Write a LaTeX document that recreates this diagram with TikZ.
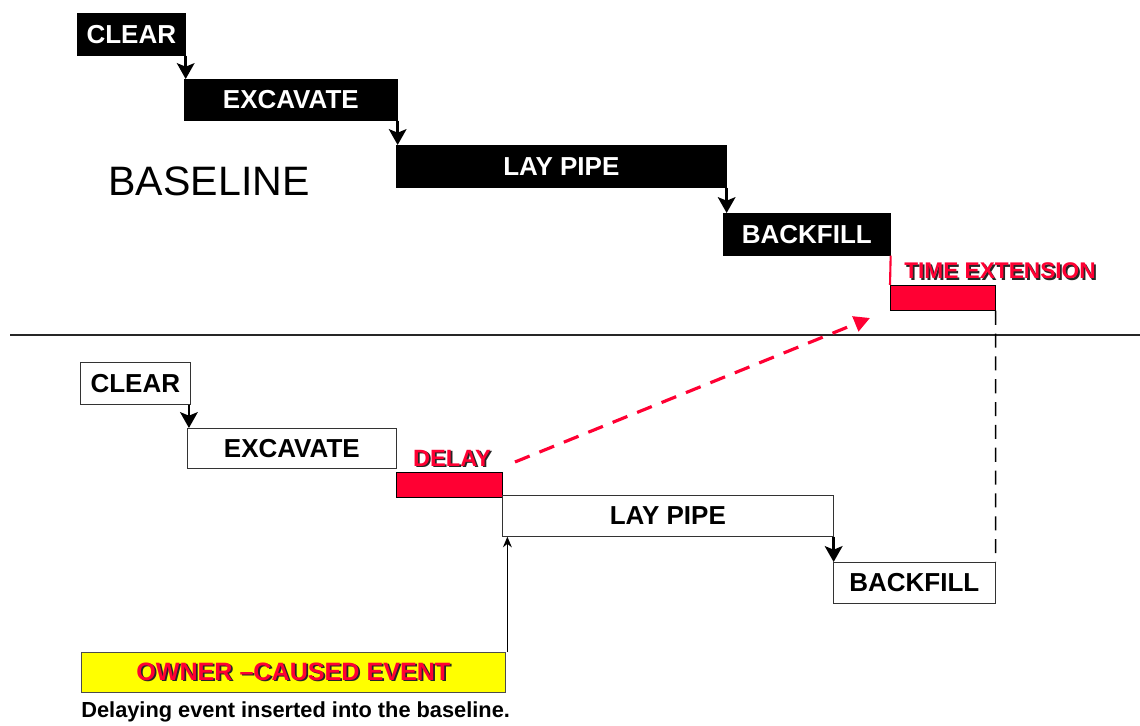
\documentclass[tikz,border=0pt]{standalone}
\usepackage{fontspec}
\setmainfont{Liberation Sans}
\usetikzlibrary{arrows.meta}

\definecolor{delayred}{HTML}{FF0033}
\definecolor{ownyellow}{HTML}{FFFF00}

%% red text with a dark drop shadow
\newcommand{\shadowed}[1]{\rlap{\hspace{1pt}\raisebox{-1pt}{\textcolor{black!85}{#1}}}#1}

\tikzset{
  barfont/.style={font=\fontsize{14.8}{16}\selectfont\bfseries},
  topbar/.style={barfont, draw=black, fill=black, text=white, inner sep=0pt, anchor=north west},
  planbar/.style={barfont, draw=black!80, fill=white, text=black, inner sep=0pt, anchor=north west},
  delaybar/.style={draw=black, fill=delayred, inner sep=0pt, anchor=north west, minimum height=0.5cm},
  redlabel/.style={font=\fontsize{13.4}{15}\selectfont\bfseries, text=delayred, inner sep=0pt},
  steparrow/.style={line width=1.5pt, -{Stealth[length=9pt,width=10pt,inset=2pt]}},
}

\begin{document}
\begin{tikzpicture}[x=0.02cm, y=-0.02cm]
  \useasboundingbox (0,0) rectangle (1140,726);

  %% baseline schedule
  \node[topbar, minimum width=2.16cm, minimum height=0.84cm] (clearA) at (77,13) {CLEAR};
  \node[topbar, minimum width=4.26cm, minimum height=0.82cm] (excA) at (184,79) {EXCAVATE};
  \node[topbar, minimum width=6.6cm, minimum height=0.84cm] (layA) at (396,145) {LAY PIPE};
  \node[topbar, minimum width=3.34cm, minimum height=0.84cm] (backA) at (723,213) {BACKFILL};

  \draw[steparrow] (clearA.south east) -- (clearA.south east |- excA.north);
  \draw[steparrow] (excA.south east) -- (excA.south east |- layA.north);
  \draw[steparrow] (layA.south east) -- (layA.south east |- backA.north);

  \node[font=\fontsize{23.4}{26}\selectfont] (base) at (209,181) {BASELINE};

  %% time extension
  \node[delaybar, minimum width=2.1cm] (ext) at (890,285) {};
  \draw[delayred, line width=1.2pt] (backA.south east) -- (ext.north west);
  \node[redlabel, font=\fontsize{12.9}{15}\selectfont\bfseries] (extlbl) at (1000,272) {\shadowed{TIME EXTENSION}};

  %% divider
  \coordinate (divL) at (10,335);
  \coordinate (divR) at (1140,335);
  \draw[black!85, line width=0.6pt] (divL) -- (divR);

  %% impacted schedule
  \node[planbar, minimum width=2.2cm, minimum height=0.84cm] (clearB) at (80,362) {CLEAR};
  \node[planbar, minimum width=4.18cm, minimum height=0.8cm] (excB) at (187,428) {EXCAVATE};
  \node[delaybar, minimum width=2.12cm] (delay) at (396,472) {};
  \node[redlabel] (delaylbl) at (452,459) {\shadowed{DELAY}};
  \node[planbar, minimum width=6.62cm, minimum height=0.82cm] (layB) at (502,495) {LAY PIPE};
  \node[planbar, minimum width=3.24cm, minimum height=0.82cm] (backB) at (833,562) {BACKFILL};

  \draw[steparrow] ([xshift=-1pt]clearB.south east) -- ([xshift=-1pt]clearB.south east |- excB.north);
  \draw[steparrow, line width=2pt] (layB.south east) -- (layB.south east |- backB.north);

  \draw[black, line width=0.9pt, dash pattern=on 8pt off 5pt] (ext.south east) -- (backB.north east);

  %% delay pushes the finish
  \coordinate (dashS) at (515,462);
  \coordinate (dashE) at (870,318);
  \draw[delayred, line width=1.8pt, dash pattern=on 9pt off 6pt, -{Triangle[length=9pt,width=9pt]}] (dashS) -- (dashE);

  %% owner event
  \node[draw=black!70, fill=ownyellow, inner sep=0pt, anchor=north west, minimum width=8.48cm, minimum height=0.8cm,
        redlabel, font=\fontsize{14.3}{16}\selectfont\bfseries] (owner) at (81,652) {\shadowed{OWNER --CAUSED EVENT}};
  \draw[black, line width=1pt, -{Stealth[length=6pt,width=5pt]}] ([xshift=1pt]owner.north east) -- ([xshift=1pt]owner.north east |- layB.south);

  \node[anchor=west, inner sep=0pt, font=\fontsize{12.4}{14}\selectfont\bfseries] (caption) at (81,712) {Delaying event inserted into the baseline.};

\end{tikzpicture}
\end{document}
